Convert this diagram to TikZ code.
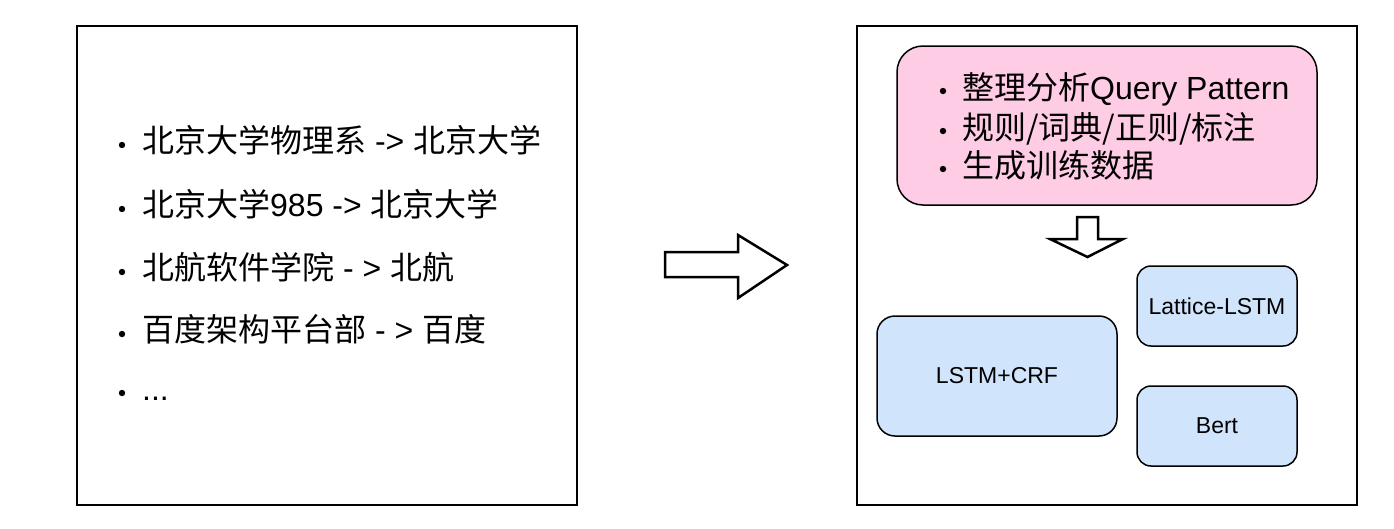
\documentclass[tikz,border=0pt]{standalone}
\usepackage{fontspec}
\setmainfont{Liberation Sans}
\newfontfamily\cjk{Noto Sans CJK SC}
\usetikzlibrary{positioning}
\definecolor{PatternPink}{HTML}{FFCCE6}
\definecolor{ModelBlue}{HTML}{D0E4FC}

\tikzset{
  panel/.style={draw,line width=2pt,inner sep=0pt},
  modelbox/.style={draw,line width=1.5pt,fill=ModelBlue,rounded corners=14pt,
    font=\fontsize{23}{28}\selectfont},
  listtext/.style={anchor=base west,inner sep=0pt,font=\fontsize{32}{38}\selectfont},
  hollowarrow/.style={draw,line width=2.5pt,fill=white,line join=miter},
}

\begin{document}
\begin{tikzpicture}[x=1pt,y=-1pt]
  \useasboundingbox (0,0) rectangle (1394,528);
  % left panel: examples
  \node[panel,minimum width=500pt,minimum height=479pt] (examples) at (327,265.5) {};
  \foreach \y/\txt [count=\i] in {
      152/{{\cjk 北京大学物理系} -> {\cjk 北京大学}},
      216/{{\cjk 北京大学}985 -> {\cjk 北京大学}},
      279/{{\cjk 北航软件学院} - > {\cjk 北航}},
      341/{{\cjk 百度架构平台部} - > {\cjk 百度}},
      400/{...}} {
    \fill (122,\y-7) circle (3.2pt);
    \node[listtext] (example\i) at (142,\y) {\txt};
  }
  \draw[hollowarrow] (665,252) -- (738,252) -- (738,235) -- (787,265)
    -- (738,298) -- (738,277) -- (665,277) -- cycle;
  % right panel: method
  \node[panel,minimum width=500pt,minimum height=479pt] (method) at (1107,265.5) {};
  \node[draw,line width=1.5pt,fill=PatternPink,rounded corners=26pt,
    minimum width=420pt,minimum height=159pt] (pattern) at (1107,125.5) {};
  \foreach \y/\txt [count=\i] in {
      99/{{\cjk 整理分析}Query Pattern},
      139/{{\cjk 规则/词典/正则/标注}},
      177/{{\cjk 生成训练数据}}} {
    \fill (943,\y-8) circle (3.2pt);
    \node[listtext] (step\i) at (962,\y) {\txt};
  }
  \draw[hollowarrow] (1077,217) -- (1098,217) -- (1098,239) -- (1123,239)
    -- (1087.5,257) -- (1050,239) -- (1077,239) -- cycle;
  \node[modelbox,rounded corners=18pt,minimum width=240pt,minimum height=120pt]
    (lstmcrf) at (997,376) {LSTM+CRF};
  \node[modelbox,minimum width=160pt,minimum height=80pt] (lattice) at (1217,306) {Lattice-LSTM};
  \node[modelbox,minimum width=160pt,minimum height=80pt] (bert) at (1217,426) {Bert};
\end{tikzpicture}
\end{document}
